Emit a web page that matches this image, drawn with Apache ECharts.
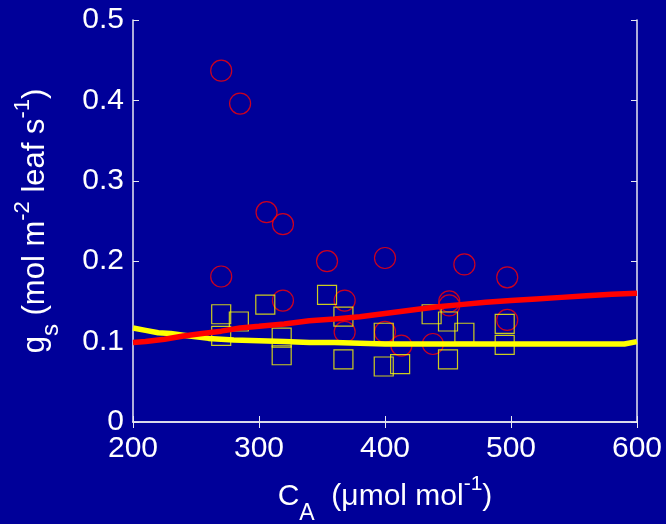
<!DOCTYPE html>
<html><head><meta charset="utf-8">
<script src="https://cdn.jsdelivr.net/npm/echarts@6/dist/echarts.min.js"></script>
<style>html,body{margin:0;padding:0;background:#000099;}#c{width:666px;height:524px;}</style>
</head><body><div id="c"></div>
<script>
// Circles (red): [CA, gs]
var circleData = [
  [270,0.437],[285,0.396],[306,0.261],[319,0.246],[270,0.181],
  [354,0.200],[400,0.204],[463,0.196],[497,0.180],
  [319,0.151],[368,0.151],[368,0.112],[400,0.112],[413,0.095],
  [438,0.097],[451,0.150],[451,0.145],[497,0.127]
];
// Squares (yellow): [CA, gs]
var squareData = [
  [270,0.134],[270,0.107],[284,0.125],[305,0.146],[318,0.105],[318,0.083],
  [354,0.158],[367,0.131],[367,0.078],[399,0.111],[399,0.069],[412,0.072],
  [437,0.134],[450,0.125],[450,0.078],[463,0.111],[495,0.122],[495,0.096]
];
// Red model line
var redLine = [
  [200,0.099],[210,0.100],[225,0.103],[240,0.107],[255,0.110],[270,0.113],
  [285,0.117],[300,0.119],[320,0.122],[340,0.126],[360,0.128],[380,0.131],
  [400,0.135],[420,0.139],[440,0.143],[460,0.146],[480,0.149],[500,0.151],
  [520,0.153],[540,0.155],[560,0.157],[580,0.159],[600,0.160]
];
// Yellow model line
var yellowLine = [
  [200,0.117],[210,0.114],[220,0.111],[230,0.110],[240,0.108],[250,0.106],
  [260,0.104],[280,0.102],[300,0.101],[320,0.100],[340,0.099],[360,0.099],
  [380,0.098],[400,0.097],[450,0.097],[500,0.097],[550,0.097],[590,0.097],[600,0.100]
];
var xTicks = [200,300,400,500,600];
var yTicks = [0,0.1,0.2,0.3,0.4,0.5];

var FONT = 'Liberation Sans, Arial, Helvetica, sans-serif';
var axisCol = '#e8e8f0';
var chart = echarts.init(document.getElementById('c'));
function richDef(base){
  return {
    b:{fontSize:base,color:'#fff',fontFamily:FONT,lineHeight:56,verticalAlign:'middle'},
    sub:{fontSize:Math.round(base*0.76),color:'#fff',fontFamily:FONT,lineHeight:6,verticalAlign:'bottom'},
    sup:{fontSize:Math.round(base*0.7),color:'#fff',fontFamily:FONT,lineHeight:22,verticalAlign:'top',padding:[5,0,0,0]}
  };
}
var commonAxis = {
  axisLine:{show:true,lineStyle:{color:axisCol,width:1.5}},
  axisTick:{show:true,inside:true,length:6,lineStyle:{color:axisCol,width:1}},
  splitLine:{show:false}
};
chart.setOption({
  backgroundColor:'#000099',
  animation:false,
  grid:{left:133,right:29,top:20,bottom:102,containLabel:false,outerBoundsMode:'none'},
  xAxis:[
    Object.assign({type:'value',min:xTicks[0],max:xTicks[xTicks.length-1],interval:100,position:'bottom',
      axisLabel:{color:'#fff',fontSize:30,fontFamily:FONT,margin:12},
      name:'{b|C}{sub|A}{b|  (\u03bcmol mol}{sup|-1}{b|)}',nameLocation:'middle',nameGap:40,
      nameTextStyle:{rich:richDef(30)}},commonAxis),
    Object.assign({type:'value',min:200,max:600,interval:100,position:'top',axisLabel:{show:false}},commonAxis)
  ],
  yAxis:[
    Object.assign({type:'value',min:0,max:0.5,interval:0.1,position:'left',
      axisLabel:{color:'#fff',fontSize:30,fontFamily:FONT,margin:9,formatter:function(v){return v===0?'0':v.toFixed(1);}},
      name:'{b|g}{sub|s}{b| (mol m}{sup|-2}{b| leaf s}{sup|-1}{b|)}',nameLocation:'middle',nameGap:70,nameRotate:90,
      nameTextStyle:{rich:richDef(31)}},commonAxis),
    Object.assign({type:'value',min:0,max:0.5,interval:0.1,position:'right',axisLabel:{show:false}},commonAxis)
  ],
  series:[
    {type:'scatter',data:circleData,symbol:'circle',symbolSize:21,
      itemStyle:{color:'rgba(0,0,0,0)',borderColor:'#ff0000',borderWidth:1.2},z:2},
    {type:'scatter',data:squareData,symbol:'rect',symbolSize:19,
      itemStyle:{color:'rgba(0,0,0,0)',borderColor:'#ffff00',borderWidth:1.2},z:2},
    {type:'line',data:yellowLine,showSymbol:false,lineStyle:{color:'#ffff00',width:5.5},z:3},
    {type:'line',data:redLine,showSymbol:false,lineStyle:{color:'#ff0000',width:5.5},z:4}
  ]
});
</script></body></html>
